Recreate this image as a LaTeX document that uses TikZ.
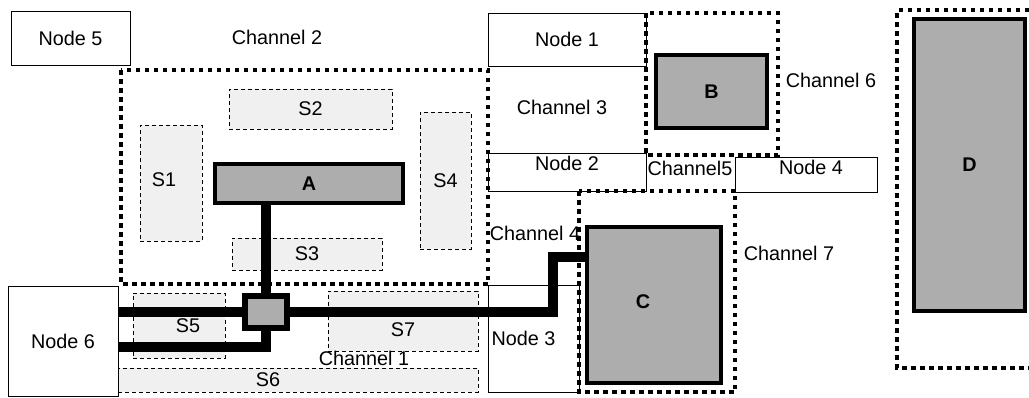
\documentclass[tikz,border=0pt]{standalone}
\usepackage{fontspec}
\setmainfont{Liberation Sans}
\begin{document}
\begin{tikzpicture}[x=1pt,y=-1pt,
  every node/.style={font=\fontsize{19.8}{22}\selectfont, inner sep=0pt, outer sep=0pt},
  box/.style={draw, line width=0.8pt, fill=white},
  sbox/.style={draw, line width=0.7pt, dash pattern=on 4pt off 3pt, fill=black!6},
  block/.style={draw, line width=4pt, fill=black!32, font=\fontsize{19.8}{22}\selectfont\bfseries},
  chan/.style={line width=4.5pt, dash pattern=on 4.5pt off 4.5pt},
  wire/.style={line width=10pt},
  padbox/.style={draw, line width=6pt, fill=black!32, outer sep=3pt}]
\useasboundingbox (0,0) rectangle (1029,397);
% S regions
\node[sbox, minimum width=62pt, minimum height=116pt, label={[xshift=-7pt,yshift=3pt]center:S1}] (s1) at (171,183) {};
\node[sbox, minimum width=163pt, minimum height=40pt] (s2) at (310.5,109) {S2};
\node[sbox, minimum width=150pt, minimum height=32pt] (s3) at (307,254) {S3};
\node[sbox, minimum width=51pt, minimum height=137pt] (s4) at (445.5,180.5) {S4};
\node[sbox, minimum width=92pt, minimum height=65pt, label={[xshift=9pt]center:S5}] (s5) at (179,325.5) {};
\node[sbox, minimum width=360pt, minimum height=24pt, label={[xshift=-30pt]center:S6}] (s6) at (298,380) {};
\node[sbox, minimum width=150pt, minimum height=60pt, label={[yshift=-9pt]center:S7}] (s7) at (403,321) {};
% plain nodes
\node[box, minimum width=119pt, minimum height=54pt] (n5) at (70.5,38) {Node 5};
\node[box, minimum width=158pt, minimum height=53pt] (n1) at (567,39.5) {Node 1};
\node[box, minimum width=158pt, minimum height=38pt, label={[yshift=9pt]center:Node 2}] (n2) at (567,172) {};
\node[box, minimum width=142pt, minimum height=35pt, label={[xshift=5pt,yshift=7pt]center:Node 4}] (n4) at (806,174.5) {};
\node[box, minimum width=91pt, minimum height=107pt, label={[xshift=-10pt]center:Node 3}] (n3) at (533.5,338.5) {};
\node[box, minimum width=110pt, minimum height=110pt] (n6) at (63,341) {Node 6};
% channel labels
\node (c2) at (277,37) {Channel 2};
\node (c3) at (562,107) {Channel 3};
\node (c6) at (831,80) {Channel 6};
\node (c5) at (690,168) {Channel5};
\node (c4) at (535,233) {Channel 4};
\node (c7) at (789,253) {Channel 7};
\node (c1) at (364,358) {Channel 1};
% channel boundaries
\draw[chan] (121,70) rectangle (488,284);
\draw[chan] (646,13) rectangle (778,155);
\draw[chan] (579,191) rectangle (735,392);
\draw[chan] (1029,10) -| (897,368) -- (1029,368);
% blocks
\node[block, minimum width=188pt, minimum height=39pt] (A) at (309,183.5) {A};
\node[block, minimum width=111pt, minimum height=73pt] (B) at (711.5,91.5) {B};
\node[block, minimum width=134pt, minimum height=156pt, label={[xshift=-11pt,yshift=3pt,font=\fontsize{19.8}{22}\selectfont\bfseries]center:C}] (C) at (654,305) {};
\node[block, minimum width=111pt, minimum height=292pt] (D) at (969.5,165) {D};
% pad
\node[padbox, minimum width=42pt, minimum height=32pt] (pad) at (266,312) {};
% wires
\coordinate (bend) at (553,257);
\draw[wire] (n6.east |- pad.west) -- (pad.west);
\draw[wire] (pad.east) -| (bend) -- (bend -| C.west);
\draw[wire] (A.south -| pad.north) -- (pad.north);
\draw[wire] (pad.south) |- ([yshift=-6pt]n6.east);
\end{tikzpicture}
\end{document}
